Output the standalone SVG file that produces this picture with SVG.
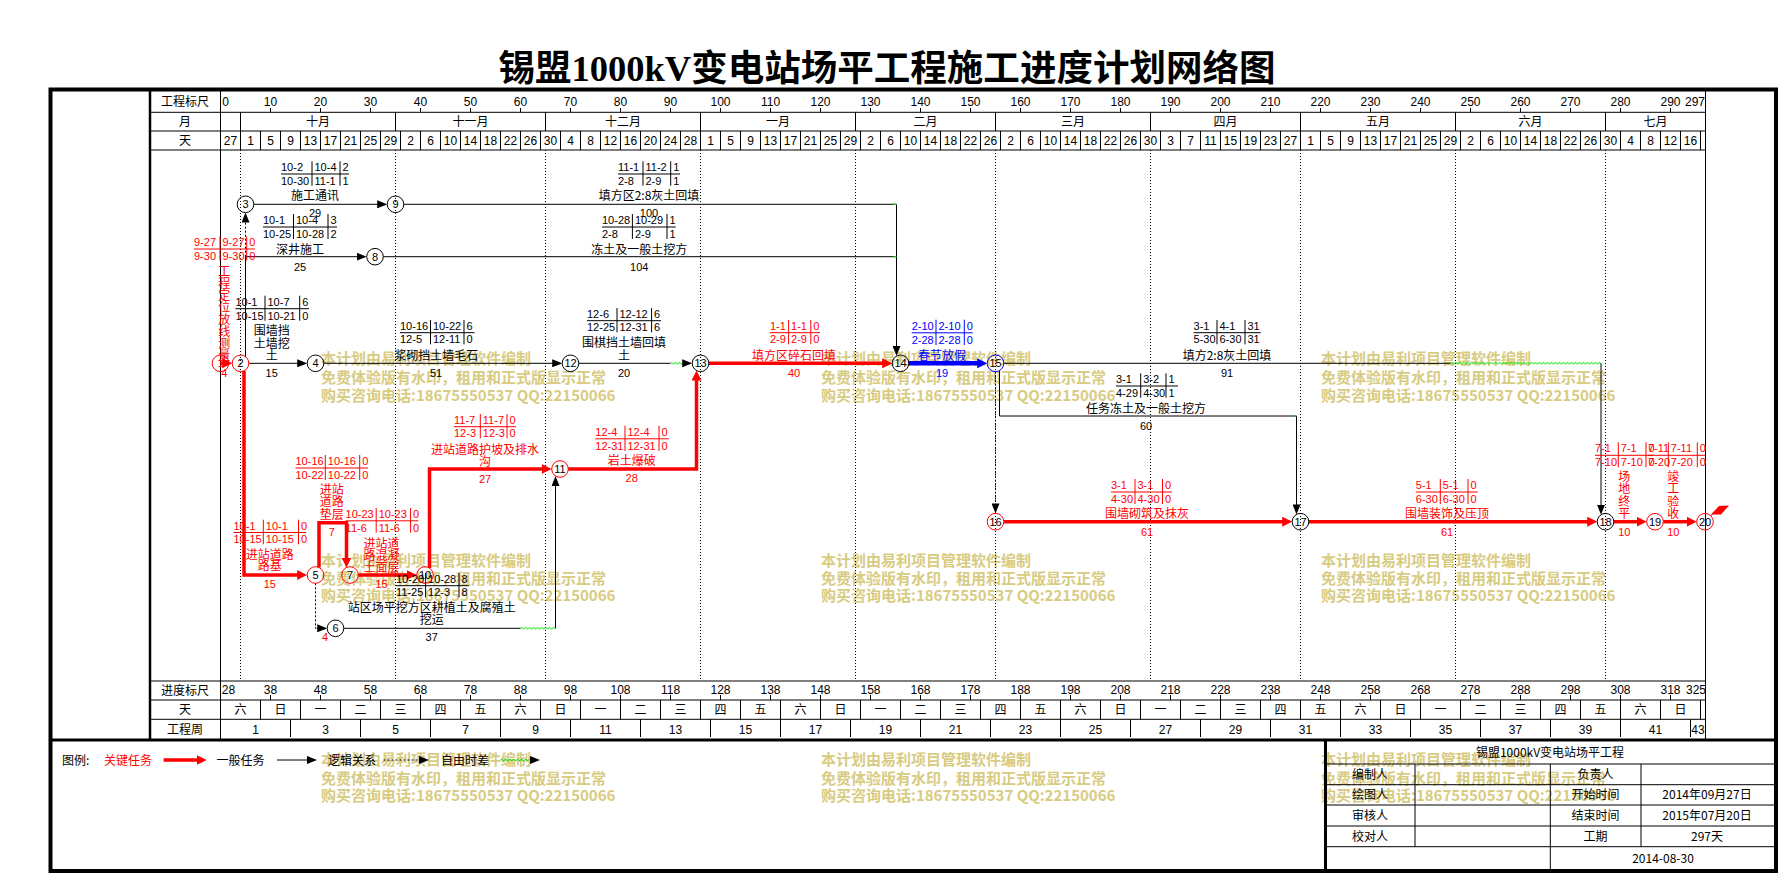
<svg xmlns="http://www.w3.org/2000/svg" width="1779" height="875" viewBox="0 0 1779 875">
<defs>
<style>
.f{font-family:"Liberation Sans","Noto Sans CJK SC",sans-serif;font-size:11px}
.h{font-family:"Liberation Sans","Noto Sans CJK SC",sans-serif;font-size:12px;text-anchor:middle}
.z{font-family:"Noto Sans CJK SC","Liberation Sans",sans-serif;font-size:12px}
.m{text-anchor:middle}
.e{text-anchor:end}
.R{fill:#f00}
.B{fill:#00f}
.wm{font-family:"Noto Sans CJK SC",sans-serif;font-size:15px;font-weight:bold;fill:#d8cb82}
.g1{stroke:#000;stroke-width:1;fill:none}
.lk{stroke:#000;stroke-width:1;fill:none}
.ld{stroke:#000;stroke-width:1;fill:none;stroke-dasharray:2 2}
.lr{stroke:#f00;stroke-width:3.5;fill:none}
.lb{stroke:#00f;stroke-width:4.5;fill:none}
.lg{stroke:#00e000;stroke-width:1.2;fill:none}
.mo{stroke:#000;stroke-width:1;fill:none;stroke-dasharray:1 2}
.nk{fill:none;stroke:#000;stroke-width:1}
.nr{fill:none;stroke:#f00;stroke-width:1}
.nb{fill:none;stroke:#00f;stroke-width:1}
.tk path{stroke:#000;fill:none;stroke-width:1}
.tr path{stroke:#f00;fill:none;stroke-width:1}
.tr text{fill:#f00}
.tb path{stroke:#00f;fill:none;stroke-width:1}
.tb text{fill:#00f}
</style>
<marker id="ak" markerUnits="userSpaceOnUse" markerWidth="10" markerHeight="8" refX="3" refY="4" orient="auto"><path d="M0,0L10,4L0,8z" fill="#000"/></marker>
<marker id="ar" markerUnits="userSpaceOnUse" markerWidth="10" markerHeight="10" refX="3" refY="5" orient="auto"><path d="M0,0L10,5L0,10z" fill="#f00"/></marker>
<marker id="ab" markerUnits="userSpaceOnUse" markerWidth="10" markerHeight="10" refX="3" refY="5" orient="auto"><path d="M0,0L10,5L0,10z" fill="#00f"/></marker>
<pattern id="wv" width="4" height="4" patternUnits="userSpaceOnUse"><path d="M0,2Q1,0.3 2,2T4,2" fill="none" stroke="#00e000" stroke-width="1"/></pattern>
</defs>
<rect x="0" y="0" width="1779" height="875" fill="#fff"/>

<g id="watermarks">
<text class="wm" x="321" y="364">本计划由易利项目管理软件编制</text>
<text class="wm" x="321" y="382.5">免费体验版有水印，租用和正式版显示正常</text>
<text class="wm" x="321" y="400.7">购买咨询电话:18675550537 QQ:22150066</text>
<text class="wm" x="821" y="364">本计划由易利项目管理软件编制</text>
<text class="wm" x="821" y="382.5">免费体验版有水印，租用和正式版显示正常</text>
<text class="wm" x="821" y="400.7">购买咨询电话:18675550537 QQ:22150066</text>
<text class="wm" x="1321" y="364">本计划由易利项目管理软件编制</text>
<text class="wm" x="1321" y="382.5">免费体验版有水印，租用和正式版显示正常</text>
<text class="wm" x="1321" y="400.7">购买咨询电话:18675550537 QQ:22150066</text>
<text class="wm" x="321" y="565.5">本计划由易利项目管理软件编制</text>
<text class="wm" x="321" y="583.5">免费体验版有水印，租用和正式版显示正常</text>
<text class="wm" x="321" y="601">购买咨询电话:18675550537 QQ:22150066</text>
<text class="wm" x="821" y="565.5">本计划由易利项目管理软件编制</text>
<text class="wm" x="821" y="583.5">免费体验版有水印，租用和正式版显示正常</text>
<text class="wm" x="821" y="601">购买咨询电话:18675550537 QQ:22150066</text>
<text class="wm" x="1321" y="565.5">本计划由易利项目管理软件编制</text>
<text class="wm" x="1321" y="583.5">免费体验版有水印，租用和正式版显示正常</text>
<text class="wm" x="1321" y="601">购买咨询电话:18675550537 QQ:22150066</text>
<text class="wm" x="321" y="765">本计划由易利项目管理软件编制</text>
<text class="wm" x="321" y="783.5">免费体验版有水印，租用和正式版显示正常</text>
<text class="wm" x="321" y="801">购买咨询电话:18675550537 QQ:22150066</text>
<text class="wm" x="821" y="765">本计划由易利项目管理软件编制</text>
<text class="wm" x="821" y="783.5">免费体验版有水印，租用和正式版显示正常</text>
<text class="wm" x="821" y="801">购买咨询电话:18675550537 QQ:22150066</text>
<text class="wm" x="1321" y="765">本计划由易利项目管理软件编制</text>
<text class="wm" x="1321" y="783.5">免费体验版有水印，租用和正式版显示正常</text>
<text class="wm" x="1321" y="801">购买咨询电话:18675550537 QQ:22150066</text>
</g>

<text id="title" x="887" y="81" font-family="Liberation Serif,Noto Sans CJK SC,serif" font-size="36" font-weight="bold" text-anchor="middle" textLength="777" lengthAdjust="spacingAndGlyphs">锡盟1000kV变电站场平工程施工进度计划网络图</text>

<g id="frame">
<rect x="50.5" y="89.5" width="1725.5" height="781.5" fill="none" stroke="#000" stroke-width="4"/>
<path d="M150 89.5V740" stroke="#000" stroke-width="2.5"/>
<path d="M50.5 740H1776M1325.5 740V871" stroke="#000" stroke-width="3"/>
<path class="g1" d="M150 112.3H1705.5M150 131H1705.5M150 150H1705.5M150 681H1705.5M150 700H1705.5M150 719.3H1705.5M220.5 89.5V740M1705.5 89.5V740"/>
<path class="g1" d="M240.5 112.3V131M395.5 112.3V131M545.5 112.3V131M700.5 112.3V131M855.5 112.3V131M995.5 112.3V131M1150.5 112.3V131M1300.5 112.3V131M1455.5 112.3V131M1605.5 112.3V131"/>
<path class="g1" d="M240.5 131v19M260.5 131v19M280.5 131v19M300.5 131v19M320.5 131v19M340.5 131v19M360.5 131v19M380.5 131v19M400.5 131v19M420.5 131v19M440.5 131v19M460.5 131v19M480.5 131v19M500.5 131v19M520.5 131v19M540.5 131v19M560.5 131v19M580.5 131v19M600.5 131v19M620.5 131v19M640.5 131v19M660.5 131v19M680.5 131v19M700.5 131v19M720.5 131v19M740.5 131v19M760.5 131v19M780.5 131v19M800.5 131v19M820.5 131v19M840.5 131v19M860.5 131v19M880.5 131v19M900.5 131v19M920.5 131v19M940.5 131v19M960.5 131v19M980.5 131v19M1000.5 131v19M1020.5 131v19M1040.5 131v19M1060.5 131v19M1080.5 131v19M1100.5 131v19M1120.5 131v19M1140.5 131v19M1160.5 131v19M1180.5 131v19M1200.5 131v19M1220.5 131v19M1240.5 131v19M1260.5 131v19M1280.5 131v19M1300.5 131v19M1320.5 131v19M1340.5 131v19M1360.5 131v19M1380.5 131v19M1400.5 131v19M1420.5 131v19M1440.5 131v19M1460.5 131v19M1480.5 131v19M1500.5 131v19M1520.5 131v19M1540.5 131v19M1560.5 131v19M1580.5 131v19M1600.5 131v19M1620.5 131v19M1640.5 131v19M1660.5 131v19M1680.5 131v19M1700.5 131v19"/>
<path class="g1" d="M270.5 108v4M320.5 108v4M370.5 108v4M420.5 108v4M470.5 108v4M520.5 108v4M570.5 108v4M620.5 108v4M670.5 108v4M720.5 108v4M770.5 108v4M820.5 108v4M870.5 108v4M920.5 108v4M970.5 108v4M1020.5 108v4M1070.5 108v4M1120.5 108v4M1170.5 108v4M1220.5 108v4M1270.5 108v4M1320.5 108v4M1370.5 108v4M1420.5 108v4M1470.5 108v4M1520.5 108v4M1570.5 108v4M1620.5 108v4M1670.5 108v4"/>
<path class="g1" d="M270.5 695v5M320.5 695v5M370.5 695v5M420.5 695v5M470.5 695v5M520.5 695v5M570.5 695v5M620.5 695v5M670.5 695v5M720.5 695v5M770.5 695v5M820.5 695v5M870.5 695v5M920.5 695v5M970.5 695v5M1020.5 695v5M1070.5 695v5M1120.5 695v5M1170.5 695v5M1220.5 695v5M1270.5 695v5M1320.5 695v5M1370.5 695v5M1420.5 695v5M1470.5 695v5M1520.5 695v5M1570.5 695v5M1620.5 695v5M1670.5 695v5"/>
<path class="g1" d="M260.5 700v19.3M300.5 700v19.3M340.5 700v19.3M380.5 700v19.3M420.5 700v19.3M460.5 700v19.3M500.5 700v19.3M540.5 700v19.3M580.5 700v19.3M620.5 700v19.3M660.5 700v19.3M700.5 700v19.3M740.5 700v19.3M780.5 700v19.3M820.5 700v19.3M860.5 700v19.3M900.5 700v19.3M940.5 700v19.3M980.5 700v19.3M1020.5 700v19.3M1060.5 700v19.3M1100.5 700v19.3M1140.5 700v19.3M1180.5 700v19.3M1220.5 700v19.3M1260.5 700v19.3M1300.5 700v19.3M1340.5 700v19.3M1380.5 700v19.3M1420.5 700v19.3M1460.5 700v19.3M1500.5 700v19.3M1540.5 700v19.3M1580.5 700v19.3M1620.5 700v19.3M1660.5 700v19.3M1700.5 700v19.3"/>
<path class="g1" d="M290.5 719.3v17.7M360.5 719.3v17.7M430.5 719.3v17.7M500.5 719.3v17.7M570.5 719.3v17.7M640.5 719.3v17.7M710.5 719.3v17.7M780.5 719.3v17.7M850.5 719.3v17.7M920.5 719.3v17.7M990.5 719.3v17.7M1060.5 719.3v17.7M1130.5 719.3v17.7M1200.5 719.3v17.7M1270.5 719.3v17.7M1340.5 719.3v17.7M1410.5 719.3v17.7M1480.5 719.3v17.7M1550.5 719.3v17.7M1620.5 719.3v17.7M1690.5 719.3v17.7"/>
<path class="mo" d="M240.5 150V681M395.5 150V681M545.5 150V681M700.5 150V681M855.5 150V681M995.5 150V681M1150.5 150V681M1300.5 150V681M1455.5 150V681M1605.5 150V681"/>
</g>

<g id="scales">
<text class="z m" x="185" y="106">工程标尺</text>
<text class="z m" x="185" y="126">月</text>
<text class="z m" x="185" y="145">天</text>
<text class="z m" x="185" y="695">进度标尺</text>
<text class="z m" x="185" y="714">天</text>
<text class="z m" x="185" y="734">工程周</text>
<text class="h" y="106"><tspan x="225.5">0</tspan><tspan x="270.5">10</tspan><tspan x="320.5">20</tspan><tspan x="370.5">30</tspan><tspan x="420.5">40</tspan><tspan x="470.5">50</tspan><tspan x="520.5">60</tspan><tspan x="570.5">70</tspan><tspan x="620.5">80</tspan><tspan x="670.5">90</tspan><tspan x="720.5">100</tspan><tspan x="770.5">110</tspan><tspan x="820.5">120</tspan><tspan x="870.5">130</tspan><tspan x="920.5">140</tspan><tspan x="970.5">150</tspan><tspan x="1020.5">160</tspan><tspan x="1070.5">170</tspan><tspan x="1120.5">180</tspan><tspan x="1170.5">190</tspan><tspan x="1220.5">200</tspan><tspan x="1270.5">210</tspan><tspan x="1320.5">220</tspan><tspan x="1370.5">230</tspan><tspan x="1420.5">240</tspan><tspan x="1470.5">250</tspan><tspan x="1520.5">260</tspan><tspan x="1570.5">270</tspan><tspan x="1620.5">280</tspan><tspan x="1670.5">290</tspan><tspan x="1695">297</tspan></text>
<text class="z m" y="126"><tspan x="318">十月</tspan><tspan x="470.5">十一月</tspan><tspan x="623">十二月</tspan><tspan x="778">一月</tspan><tspan x="925.5">二月</tspan><tspan x="1073">三月</tspan><tspan x="1225.5">四月</tspan><tspan x="1378">五月</tspan><tspan x="1530.5">六月</tspan><tspan x="1655.5">七月</tspan></text>
<text class="h" y="145"><tspan x="230.5">27</tspan><tspan x="250.5">1</tspan><tspan x="270.5">5</tspan><tspan x="290.5">9</tspan><tspan x="310.5">13</tspan><tspan x="330.5">17</tspan><tspan x="350.5">21</tspan><tspan x="370.5">25</tspan><tspan x="390.5">29</tspan><tspan x="410.5">2</tspan><tspan x="430.5">6</tspan><tspan x="450.5">10</tspan><tspan x="470.5">14</tspan><tspan x="490.5">18</tspan><tspan x="510.5">22</tspan><tspan x="530.5">26</tspan><tspan x="550.5">30</tspan><tspan x="570.5">4</tspan><tspan x="590.5">8</tspan><tspan x="610.5">12</tspan><tspan x="630.5">16</tspan><tspan x="650.5">20</tspan><tspan x="670.5">24</tspan><tspan x="690.5">28</tspan><tspan x="710.5">1</tspan><tspan x="730.5">5</tspan><tspan x="750.5">9</tspan><tspan x="770.5">13</tspan><tspan x="790.5">17</tspan><tspan x="810.5">21</tspan><tspan x="830.5">25</tspan><tspan x="850.5">29</tspan><tspan x="870.5">2</tspan><tspan x="890.5">6</tspan><tspan x="910.5">10</tspan><tspan x="930.5">14</tspan><tspan x="950.5">18</tspan><tspan x="970.5">22</tspan><tspan x="990.5">26</tspan><tspan x="1010.5">2</tspan><tspan x="1030.5">6</tspan><tspan x="1050.5">10</tspan><tspan x="1070.5">14</tspan><tspan x="1090.5">18</tspan><tspan x="1110.5">22</tspan><tspan x="1130.5">26</tspan><tspan x="1150.5">30</tspan><tspan x="1170.5">3</tspan><tspan x="1190.5">7</tspan><tspan x="1210.5">11</tspan><tspan x="1230.5">15</tspan><tspan x="1250.5">19</tspan><tspan x="1270.5">23</tspan><tspan x="1290.5">27</tspan><tspan x="1310.5">1</tspan><tspan x="1330.5">5</tspan><tspan x="1350.5">9</tspan><tspan x="1370.5">13</tspan><tspan x="1390.5">17</tspan><tspan x="1410.5">21</tspan><tspan x="1430.5">25</tspan><tspan x="1450.5">29</tspan><tspan x="1470.5">2</tspan><tspan x="1490.5">6</tspan><tspan x="1510.5">10</tspan><tspan x="1530.5">14</tspan><tspan x="1550.5">18</tspan><tspan x="1570.5">22</tspan><tspan x="1590.5">26</tspan><tspan x="1610.5">30</tspan><tspan x="1630.5">4</tspan><tspan x="1650.5">8</tspan><tspan x="1670.5">12</tspan><tspan x="1690.5">16</tspan></text>
<text class="h" y="694"><tspan x="228.5">28</tspan><tspan x="270.5">38</tspan><tspan x="320.5">48</tspan><tspan x="370.5">58</tspan><tspan x="420.5">68</tspan><tspan x="470.5">78</tspan><tspan x="520.5">88</tspan><tspan x="570.5">98</tspan><tspan x="620.5">108</tspan><tspan x="670.5">118</tspan><tspan x="720.5">128</tspan><tspan x="770.5">138</tspan><tspan x="820.5">148</tspan><tspan x="870.5">158</tspan><tspan x="920.5">168</tspan><tspan x="970.5">178</tspan><tspan x="1020.5">188</tspan><tspan x="1070.5">198</tspan><tspan x="1120.5">208</tspan><tspan x="1170.5">218</tspan><tspan x="1220.5">228</tspan><tspan x="1270.5">238</tspan><tspan x="1320.5">248</tspan><tspan x="1370.5">258</tspan><tspan x="1420.5">268</tspan><tspan x="1470.5">278</tspan><tspan x="1520.5">288</tspan><tspan x="1570.5">298</tspan><tspan x="1620.5">308</tspan><tspan x="1670.5">318</tspan><tspan x="1696">325</tspan></text>
<text class="z m" y="714"><tspan x="240.5">六</tspan><tspan x="280.5">日</tspan><tspan x="320.5">一</tspan><tspan x="360.5">二</tspan><tspan x="400.5">三</tspan><tspan x="440.5">四</tspan><tspan x="480.5">五</tspan><tspan x="520.5">六</tspan><tspan x="560.5">日</tspan><tspan x="600.5">一</tspan><tspan x="640.5">二</tspan><tspan x="680.5">三</tspan><tspan x="720.5">四</tspan><tspan x="760.5">五</tspan><tspan x="800.5">六</tspan><tspan x="840.5">日</tspan><tspan x="880.5">一</tspan><tspan x="920.5">二</tspan><tspan x="960.5">三</tspan><tspan x="1000.5">四</tspan><tspan x="1040.5">五</tspan><tspan x="1080.5">六</tspan><tspan x="1120.5">日</tspan><tspan x="1160.5">一</tspan><tspan x="1200.5">二</tspan><tspan x="1240.5">三</tspan><tspan x="1280.5">四</tspan><tspan x="1320.5">五</tspan><tspan x="1360.5">六</tspan><tspan x="1400.5">日</tspan><tspan x="1440.5">一</tspan><tspan x="1480.5">二</tspan><tspan x="1520.5">三</tspan><tspan x="1560.5">四</tspan><tspan x="1600.5">五</tspan><tspan x="1640.5">六</tspan><tspan x="1680.5">日</tspan></text>
<text class="h" y="734"><tspan x="255.5">1</tspan><tspan x="325.5">3</tspan><tspan x="395.5">5</tspan><tspan x="465.5">7</tspan><tspan x="535.5">9</tspan><tspan x="605.5">11</tspan><tspan x="675.5">13</tspan><tspan x="745.5">15</tspan><tspan x="815.5">17</tspan><tspan x="885.5">19</tspan><tspan x="955.5">21</tspan><tspan x="1025.5">23</tspan><tspan x="1095.5">25</tspan><tspan x="1165.5">27</tspan><tspan x="1235.5">29</tspan><tspan x="1305.5">31</tspan><tspan x="1375.5">33</tspan><tspan x="1445.5">35</tspan><tspan x="1515.5">37</tspan><tspan x="1585.5">39</tspan><tspan x="1655.5">41</tspan><tspan x="1698">43</tspan></text>
</g>

<g id="connectors">
<path class="lk" d="M253.8 204.3H380.2" marker-end="url(#ak)"/>
<path class="lk" d="M403.8 204.3H896.5V349" marker-end="url(#ak)"/>
<path class="lk" d="M383.3 256.7H896.5"/>
<path class="lk" d="M245.5 356.7V256.7H359.7" marker-end="url(#ak)"/>
<path class="lk" d="M248.8 363.3H300.2" marker-end="url(#ak)"/>
<path class="lk" d="M323.8 363.3H555.2" marker-end="url(#ak)"/>
<path class="lk" d="M578.8 363.3H670.5"/>
<rect x="0" y="0" width="11.5" height="4" fill="url(#wv)" transform="translate(670.5,361.3)"/>
<polygon points="682.2,359.3 692.2,363.3 682.2,367.3" fill="#000"/>
<path class="lk" d="M1003.8 363.3H1450.5"/>
<rect x="0" y="0" width="150.5" height="4" fill="url(#wv)" transform="translate(1450.5,361.3)"/>
<path class="lk" d="M1601 363.3V507.7" marker-end="url(#ak)"/>
<path class="lk" d="M999.5 370.6V416H1296.5V507.4" marker-end="url(#ak)"/>
<path class="lk" d="M343.8 628.3H520.5"/>
<rect x="0" y="0" width="35" height="4" fill="url(#wv)" transform="translate(520.5,626.3)"/>
<path class="lk" d="M555.5 628.3V483" marker-end="url(#ak)"/>
<path class="lg" d="M893.5 204.3h3M893.5 256.7h3M1293.5 416h3"/>
<path class="ld" d="M245.5 356.7V219.6" marker-end="url(#ak)"/>
<path class="ld" d="M315.5 583.3V628.3H320.2" marker-end="url(#ak)"/>
<path class="ld" d="M995.5 371.6V506.4" stroke-dasharray="3 2" marker-end="url(#ak)"/>
<path class="lr" d="M220.5 363.3H223"/>
<polygon points="222.2,358.3 232.2,363.3 222.2,368.3" fill="#f00"/>
<path class="lr" d="M244 370.8V575H300.2" marker-end="url(#ar)"/>
<path class="lr" d="M319 567.5V522.7H346.5V560.5" marker-end="url(#ar)"/>
<path class="lr" d="M358.3 575H409.7" marker-end="url(#ar)"/>
<path class="lr" d="M429.5 568V469H544.7" marker-end="url(#ar)"/>
<path class="lr" d="M568.3 469H696.5V377.6" marker-end="url(#ar)"/>
<path class="lr" d="M708.8 363.3H885.2" marker-end="url(#ar)"/>
<path class="lb" d="M908.8 363.3H980.2" marker-end="url(#ab)"/>
<path class="lr" d="M1003.8 521.7H1285.2" marker-end="url(#ar)"/>
<path class="lr" d="M1308.8 521.7H1590.2" marker-end="url(#ar)"/>
<path class="lr" d="M1613.8 521.7H1639.7" marker-end="url(#ar)"/>
<path class="lr" d="M1663.3 521.7H1689.7" marker-end="url(#ar)"/>
<path d="M1710.5 516L1714 512" stroke="#f00" stroke-width="1"/>
<polygon points="1711,514.5 1719,506 1729,505.5 1721,514.5" fill="#f00"/>
</g>

<g id="tables">
<g class="tk"><path d="M281 174H349M312 161.3V185.7M340 161.3V185.7"/><text class="f" x="281" y="171.3">10-2</text><text class="f" x="314.5" y="171.3">10-4</text><text class="f" x="342.5" y="171.3">2</text><text class="f" x="281" y="184.7">10-30</text><text class="f" x="314.5" y="184.7">11-1</text><text class="f" x="342.5" y="184.7">1</text></g>
<g class="tk"><path d="M263 227H337M293.5 214V239M328 214V239"/><text class="f" x="263" y="224">10-1</text><text class="f" x="296" y="224">10-4</text><text class="f" x="330.5" y="224">3</text><text class="f" x="263" y="238">10-25</text><text class="f" x="296" y="238">10-28</text><text class="f" x="330.5" y="238">2</text></g>
<g class="tr"><path d="M194 249H255M220 236.3V260.7M246.7 236.3V260.7"/><text class="f" x="194" y="246.3">9-27</text><text class="f" x="222.5" y="246.3">9-27</text><text class="f" x="249.2" y="246.3">0</text><text class="f" x="194" y="259.7">9-30</text><text class="f" x="222.5" y="259.7">9-30</text><text class="f" x="249.2" y="259.7">0</text></g>
<g class="tk"><path d="M235.4 308.7H309M265 295.7V320.7M299.7 295.7V320.7"/><text class="f" x="235.4" y="305.7">10-1</text><text class="f" x="267.5" y="305.7">10-7</text><text class="f" x="302.2" y="305.7">6</text><text class="f" x="235.4" y="319.7">10-15</text><text class="f" x="267.5" y="319.7">10-21</text><text class="f" x="302.2" y="319.7">0</text></g>
<g class="tk"><path d="M400 332.7H474.5M430.5 320V344.3M464 320V344.3"/><text class="f" x="400" y="330">10-16</text><text class="f" x="433" y="330">10-22</text><text class="f" x="466.5" y="330">6</text><text class="f" x="400" y="343.3">12-5</text><text class="f" x="433" y="343.3">12-11</text><text class="f" x="466.5" y="343.3">0</text></g>
<g class="tk"><path d="M587 320.7H661M617 308V332.3M651.6 308V332.3"/><text class="f" x="587" y="318">12-6</text><text class="f" x="619.5" y="318">12-12</text><text class="f" x="654.1" y="318">6</text><text class="f" x="587" y="331.3">12-25</text><text class="f" x="619.5" y="331.3">12-31</text><text class="f" x="654.1" y="331.3">6</text></g>
<g class="tr"><path d="M770 332.7H820M788.6 320V344.3M810.8 320V344.3"/><text class="f" x="770" y="330">1-1</text><text class="f" x="791.1" y="330">1-1</text><text class="f" x="813.3" y="330">0</text><text class="f" x="770" y="343.3">2-9</text><text class="f" x="791.1" y="343.3">2-9</text><text class="f" x="813.3" y="343.3">0</text></g>
<g class="tb"><path d="M911.7 332.8H972.7M936 319.7V345M964.3 319.7V345"/><text class="f" x="911.7" y="329.7">2-10</text><text class="f" x="938.5" y="329.7">2-10</text><text class="f" x="966.8" y="329.7">0</text><text class="f" x="911.7" y="344">2-28</text><text class="f" x="938.5" y="344">2-28</text><text class="f" x="966.8" y="344">0</text></g>
<g class="tk"><path d="M1193.6 332.7H1260.7M1217 320V344.3M1245 320V344.3"/><text class="f" x="1193.6" y="330">3-1</text><text class="f" x="1219.5" y="330">4-1</text><text class="f" x="1247.5" y="330">31</text><text class="f" x="1193.6" y="343.3">5-30</text><text class="f" x="1219.5" y="343.3">6-30</text><text class="f" x="1247.5" y="343.3">31</text></g>
<g class="tk"><path d="M1116 386H1178M1140.7 373.3V397.7M1166 373.3V397.7"/><text class="f" x="1116" y="383.3">3-1</text><text class="f" x="1143.2" y="383.3">3-2</text><text class="f" x="1168.5" y="383.3">1</text><text class="f" x="1116" y="396.7">4-29</text><text class="f" x="1143.2" y="396.7">4-30</text><text class="f" x="1168.5" y="396.7">1</text></g>
<g class="tr"><path d="M1111 492H1172M1135 479V504M1162.5 479V504"/><text class="f" x="1111" y="489">3-1</text><text class="f" x="1137.5" y="489">3-1</text><text class="f" x="1165" y="489">0</text><text class="f" x="1111" y="503">4-30</text><text class="f" x="1137.5" y="503">4-30</text><text class="f" x="1165" y="503">0</text></g>
<g class="tr"><path d="M1415.8 492H1477.8M1440.3 479V504M1468 479V504"/><text class="f" x="1415.8" y="489">5-1</text><text class="f" x="1442.8" y="489">5-1</text><text class="f" x="1470.5" y="489">0</text><text class="f" x="1415.8" y="503">6-30</text><text class="f" x="1442.8" y="503">6-30</text><text class="f" x="1470.5" y="503">0</text></g>
<g class="tr"><path d="M1595 455.3H1653M1618.3 442.3V467.3M1646 442.3V467.3"/><text class="f" x="1595" y="452.3">7-1</text><text class="f" x="1620.8" y="452.3">7-1</text><text class="f" x="1648.5" y="452.3">0</text><text class="f" x="1595" y="466.3">7-10</text><text class="f" x="1620.8" y="466.3">7-10</text><text class="f" x="1648.5" y="466.3">0</text></g>
<g class="tr"><path d="M1648 455.3H1705M1668.3 442.3V467.3M1697.3 442.3V467.3"/><text class="f" x="1648" y="452.3">7-11</text><text class="f" x="1670.8" y="452.3">7-11</text><text class="f" x="1699.8" y="452.3">0</text><text class="f" x="1648" y="466.3">7-20</text><text class="f" x="1670.8" y="466.3">7-20</text><text class="f" x="1699.8" y="466.3">0</text></g>
<g class="tk"><path d="M618 174H680M643 161.3V185.7M670.7 161.3V185.7"/><text class="f" x="618" y="171.3">11-1</text><text class="f" x="645.5" y="171.3">11-2</text><text class="f" x="673.2" y="171.3">1</text><text class="f" x="618" y="184.7">2-8</text><text class="f" x="645.5" y="184.7">2-9</text><text class="f" x="673.2" y="184.7">1</text></g>
<g class="tk"><path d="M602 227H675.7M632.4 214V239M667 214V239"/><text class="f" x="602" y="224">10-28</text><text class="f" x="634.9" y="224">10-29</text><text class="f" x="669.5" y="224">1</text><text class="f" x="602" y="238">2-8</text><text class="f" x="634.9" y="238">2-9</text><text class="f" x="669.5" y="238">1</text></g>
<g class="tr"><path d="M233.5 532.5H306M263.3 519.7V544.3M298.5 519.7V544.3"/><text class="f" x="233.5" y="529.7">10-1</text><text class="f" x="265.8" y="529.7">10-1</text><text class="f" x="301" y="529.7">0</text><text class="f" x="233.5" y="543.3">10-15</text><text class="f" x="265.8" y="543.3">10-15</text><text class="f" x="301" y="543.3">0</text></g>
<g class="tr"><path d="M295.5 468H368M325.3 455V480M359.7 455V480"/><text class="f" x="295.5" y="465">10-16</text><text class="f" x="327.8" y="465">10-16</text><text class="f" x="362.2" y="465">0</text><text class="f" x="295.5" y="479">10-22</text><text class="f" x="327.8" y="479">10-22</text><text class="f" x="362.2" y="479">0</text></g>
<g class="tr"><path d="M345.6 520.8H418.3M376.2 508V532.7M410.6 508V532.7"/><text class="f" x="345.6" y="518">10-23</text><text class="f" x="378.7" y="518">10-23</text><text class="f" x="413.1" y="518">0</text><text class="f" x="345.6" y="531.7">11-6</text><text class="f" x="378.7" y="531.7">11-6</text><text class="f" x="413.1" y="531.7">0</text></g>
<g class="tr"><path d="M454 426.7H516M480.3 414V438.3M507 414V438.3"/><text class="f" x="454" y="424">11-7</text><text class="f" x="482.8" y="424">11-7</text><text class="f" x="509.5" y="424">0</text><text class="f" x="454" y="437.3">12-3</text><text class="f" x="482.8" y="437.3">12-3</text><text class="f" x="509.5" y="437.3">0</text></g>
<g class="tr"><path d="M595.3 438.8H668.8M625 425.7V451M659 425.7V451"/><text class="f" x="595.3" y="435.7">12-4</text><text class="f" x="627.5" y="435.7">12-4</text><text class="f" x="661.5" y="435.7">0</text><text class="f" x="595.3" y="450">12-31</text><text class="f" x="627.5" y="450">12-31</text><text class="f" x="661.5" y="450">0</text></g>
<g class="tk"><path d="M396 585.7H468.8M425.6 573V597.3M459 573V597.3"/><text class="f" x="396" y="583">10-20</text><text class="f" x="428.1" y="583">10-28</text><text class="f" x="461.5" y="583">8</text><text class="f" x="396" y="596.3">11-25</text><text class="f" x="428.1" y="596.3">12-3</text><text class="f" x="461.5" y="596.3">8</text></g>
</g>

<g id="task-labels">
<text class="z m" x="315" y="200.2">施工通讯</text><text class="f m" x="315" y="217">29</text>
<text class="z m" x="300" y="253.5">深井施工</text><text class="f m" x="300" y="270.7">25</text>
<text class="z m R"><tspan x="224.3" y="276.2">工</tspan><tspan x="224.3" y="288.2">程</tspan><tspan x="224.3" y="300.2">定</tspan><tspan x="224.3" y="312.2">位</tspan><tspan x="224.3" y="324.2">放</tspan><tspan x="224.3" y="336.2">线</tspan><tspan x="224.3" y="348.2">测</tspan><tspan x="224.3" y="360.2">量</tspan></text>
<text class="f m R" x="224.3" y="377.3">4</text>
<text class="z m"><tspan x="271.7" y="334.5">围墙挡</tspan><tspan x="271.7" y="347.8">土墙挖</tspan><tspan x="271.7" y="360.1">土</tspan></text><text class="f m" x="271.7" y="377.3">15</text>
<text class="z m" x="436.3" y="359.5">浆砌挡土墙毛石</text><text class="f m" x="436" y="377">51</text>
<text class="z m"><tspan x="624" y="347.2">围棋挡土墙回填</tspan><tspan x="624" y="359.5">土</tspan></text><text class="f m" x="624" y="377">20</text>
<text class="z m R" x="794" y="359.5">填方区碎石回填</text><text class="f m R" x="794" y="377">40</text>
<text class="z m B" x="942" y="359.5">春节放假</text><text class="f m B" x="942" y="377">19</text>
<text class="z m" x="1227" y="359.5">填方2:8灰土回填</text><text class="f m" x="1227" y="377">91</text>
<text class="z m" x="1146" y="412.8">任务冻土及一般土挖方</text><text class="f m" x="1146" y="430">60</text>
<text class="z m R" x="1147" y="517.8">围墙砌筑及抹灰</text><text class="f m R" x="1147" y="535.7">61</text>
<text class="z m R" x="1447" y="517.8">围墙装饰及压顶</text><text class="f m R" x="1447" y="535.7">61</text>
<text class="z m R"><tspan x="1624.3" y="481">场</tspan><tspan x="1624.3" y="493.3">地</tspan><tspan x="1624.3" y="505.6">终</tspan><tspan x="1624.3" y="517.9">平</tspan></text><text class="f m R" x="1624.3" y="535.7">10</text>
<text class="z m R"><tspan x="1673.3" y="481">竣</tspan><tspan x="1673.3" y="493.3">工</tspan><tspan x="1673.3" y="505.6">验</tspan><tspan x="1673.3" y="517.9">收</tspan></text><text class="f m R" x="1673.3" y="535.7">10</text>
<text class="z m" x="649" y="200.2">填方区2:8灰土回填</text><text class="f m" x="649" y="217">100</text>
<text class="z m" x="639.3" y="253.5">冻土及一般土挖方</text><text class="f m" x="639.3" y="270.7">104</text>
<text class="z m R"><tspan x="269.8" y="558.5">进站道路</tspan><tspan x="269.8" y="570.2">路基</tspan></text><text class="f m R" x="269.8" y="588">15</text>
<text class="z m R"><tspan x="331.8" y="493.8">进站</tspan><tspan x="331.8" y="506.2">道路</tspan><tspan x="331.8" y="518.5">垫层</tspan></text><text class="f m R" x="331.8" y="536.3">7</text>
<text class="z m R"><tspan x="381.5" y="547.8">进站道</tspan><tspan x="381.5" y="559.5">路混凝</tspan><tspan x="381.5" y="571.8">土面层</tspan></text><text class="f m R" x="381.5" y="588">15</text>
<text class="z m R"><tspan x="485" y="453.5">进站道路护坡及排水</tspan><tspan x="485" y="465.5">沟</tspan></text><text class="f m R" x="485" y="483">27</text>
<text class="z m R" x="631.7" y="465.2">岩土爆破</text><text class="f m R" x="631.7" y="482.3">28</text>
<text class="z m"><tspan x="431.7" y="612.2">站区场平挖方区耕植土及腐殖土</tspan><tspan x="431.7" y="623.8">挖运</tspan></text><text class="f m" x="431.7" y="641.3">37</text>
<text class="f m R" x="325" y="641.3">4</text>
</g>

<g id="nodes">
<g id="n1"><circle class="nr" cx="220.5" cy="363.3" r="8.3"/><text class="f m R" x="220.5" y="367.3">1</text></g>
<g id="n2"><circle class="nr" cx="240.5" cy="363.3" r="8.3"/><text class="f m" x="240.5" y="367.3">2</text></g>
<g id="n3"><circle class="nk" cx="245.5" cy="204.3" r="8.3"/><text class="f m" x="245.5" y="208.3">3</text></g>
<g id="n4"><circle class="nk" cx="315.5" cy="363.3" r="8.3"/><text class="f m" x="315.5" y="367.3">4</text></g>
<g id="n5"><circle class="nr" cx="315.5" cy="575" r="8.3"/><text class="f m" x="315.5" y="579">5</text></g>
<g id="n6"><circle class="nk" cx="335.5" cy="628.3" r="8.3"/><text class="f m" x="335.5" y="632.3">6</text></g>
<g id="n7"><circle class="nr" cx="350" cy="575" r="8.3"/><text class="f m" x="350" y="579">7</text></g>
<g id="n8"><circle class="nk" cx="375" cy="256.7" r="8.3"/><text class="f m" x="375" y="260.7">8</text></g>
<g id="n9"><circle class="nk" cx="395.5" cy="204.3" r="8.3"/><text class="f m" x="395.5" y="208.3">9</text></g>
<g id="n10"><circle class="nr" cx="425" cy="575" r="8.3"/><text class="f m" x="425" y="579">10</text></g>
<g id="n11"><circle class="nr" cx="560" cy="469" r="8.3"/><text class="f m" x="560" y="473">11</text></g>
<g id="n12"><circle class="nk" cx="570.5" cy="363.3" r="8.3"/><text class="f m" x="570.5" y="367.3">12</text></g>
<g id="n13"><circle class="nk" cx="700.5" cy="363.3" r="8.3"/><text class="f m" x="700.5" y="367.3">13</text></g>
<g id="n14"><circle class="nk" cx="900.5" cy="363.3" r="8.3"/><text class="f m" x="900.5" y="367.3">14</text></g>
<g id="n15"><circle class="nb" cx="995.5" cy="363.3" r="8.3"/><text class="f m" x="995.5" y="367.3">15</text></g>
<g id="n16"><circle class="nr" cx="995.5" cy="521.7" r="8.3"/><text class="f m" x="995.5" y="525.7">16</text></g>
<g id="n17"><circle class="nk" cx="1300.5" cy="521.7" r="8.3"/><text class="f m" x="1300.5" y="525.7">17</text></g>
<g id="n18"><circle class="nk" cx="1605.5" cy="521.7" r="8.3"/><text class="f m" x="1605.5" y="525.7">18</text></g>
<g id="n19"><circle class="nr" cx="1655" cy="521.7" r="8.3"/><text class="f m" x="1655" y="525.7">19</text></g>
<g id="n20"><circle class="nr" cx="1705" cy="521.7" r="8.3"/><text class="f m" x="1705" y="525.7">20</text></g>
</g>

<g id="legend">
<text class="z" x="62" y="764.5">图例:</text>
<text class="z R" x="104" y="764.5">关键任务</text>
<path class="lr" d="M163.6 760H199.7" marker-end="url(#ar)"/>
<text class="z" x="216.4" y="764.5">一般任务</text>
<path class="lk" d="M277 760H310" marker-end="url(#ak)"/>
<text class="z" x="328" y="764.5">逻辑关系</text>
<path class="ld" d="M383.5 760H422" marker-end="url(#ak)"/>
<text class="z" x="441" y="764.5">自由时差</text>
<rect x="0" y="0" width="29" height="4" fill="url(#wv)" transform="translate(500.6,758)"/>
<polygon points="530,756 540,760 530,764" fill="#000"/>
</g>

<g id="titleblock">
<path class="g1" d="M1325.5 764H1776M1325.5 784.7H1776M1325.5 805H1776M1325.5 826H1776M1325.5 846.7H1776M1415 764V846.7M1550.3 764V871M1641 764V846.7"/>
<text class="z m" x="1550" y="756.5">锡盟1000kV变电站场平工程</text>
<text class="z m" x="1370" y="778.8">编制人</text><text class="z m" x="1595.6" y="778.8">负责人</text>
<text class="z m" x="1370" y="799.3">绘图人</text><text class="z m" x="1595.6" y="799.3">开始时间</text><text class="z m" x="1707" y="799.3">2014年09月27日</text>
<text class="z m" x="1370" y="820">审核人</text><text class="z m" x="1595.6" y="820">结束时间</text><text class="z m" x="1707" y="820">2015年07月20日</text>
<text class="z m" x="1370" y="840.8">校对人</text><text class="z m" x="1595.6" y="840.8">工期</text><text class="z m" x="1707" y="840.8">297天</text>
<text class="z m" x="1663" y="863.3">2014-08-30</text>
</g>
</svg>
